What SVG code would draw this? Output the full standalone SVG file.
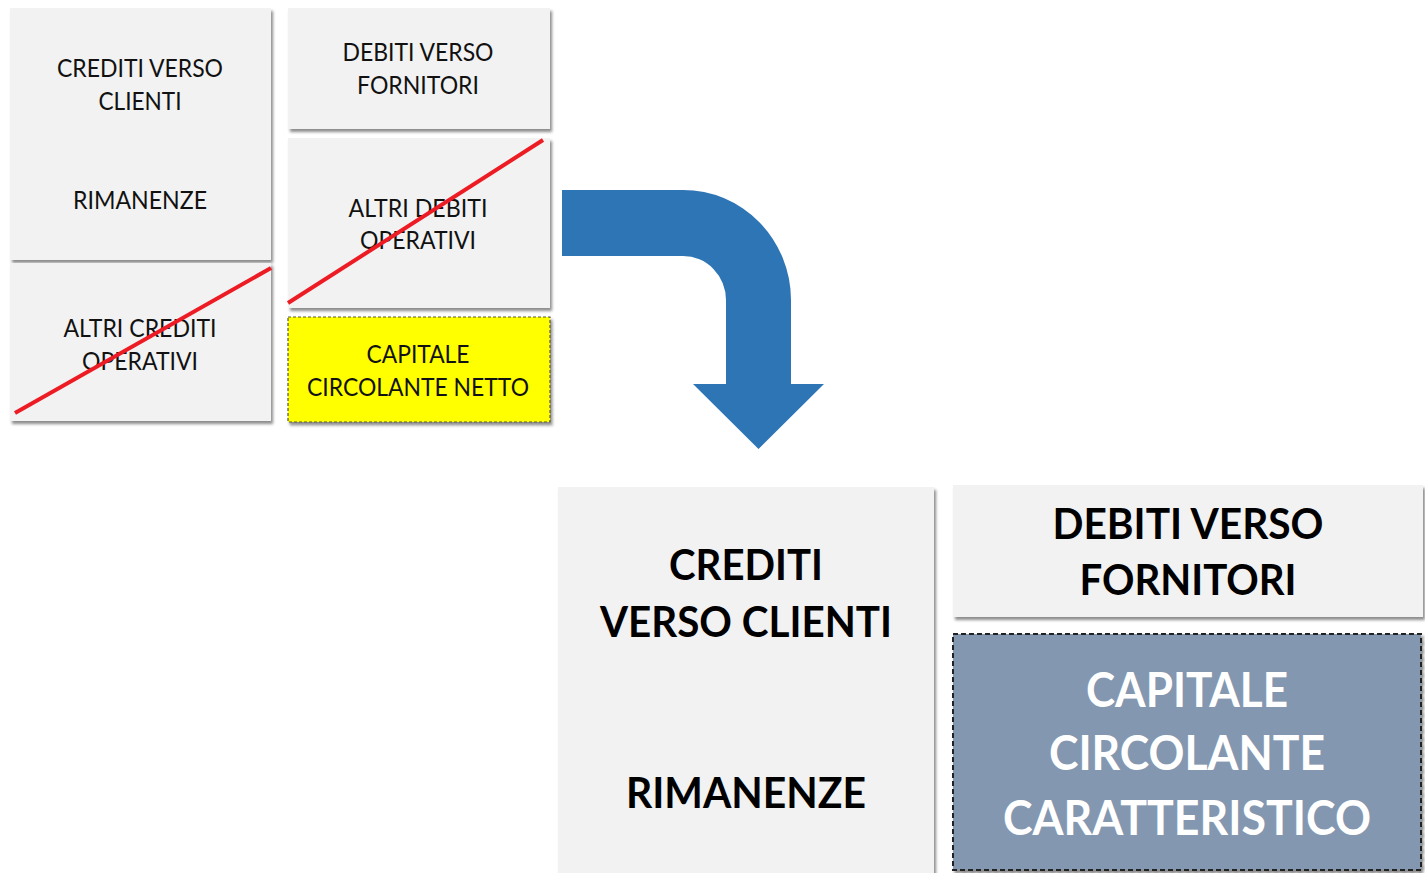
<svg xmlns="http://www.w3.org/2000/svg" width="1425" height="873" viewBox="0 0 1425 873">
<defs>
<filter id="sh" x="-10%" y="-10%" width="130%" height="130%">
<feDropShadow dx="2" dy="3" stdDeviation="1.6" flood-color="#000" flood-opacity="0.45"/>
</filter>
<style>
.box{fill:#f2f2f2;filter:url(#sh);}
.t{font-family:Lato,"Noto Sans","Liberation Sans",sans-serif;font-size:25px;fill:#111;text-anchor:middle;}
.b{font-family:Lato,"Noto Sans","Liberation Sans",sans-serif;font-weight:bold;font-size:42px;fill:#000;text-anchor:middle;}
.w{font-family:Lato,"Noto Sans","Liberation Sans",sans-serif;font-weight:bold;font-size:47px;fill:#fff;text-anchor:middle;}
.x{stroke:#ed1c24;stroke-width:4;stroke-linecap:butt;}
</style>
</defs>
<rect width="1425" height="873" fill="#fff"/>

<g id="n-crediti-rimanenze">
<rect class="box" x="10" y="8" width="261" height="252"/>
<text class="t" x="140" y="77" textLength="166" lengthAdjust="spacingAndGlyphs">CREDITI VERSO</text>
<text class="t" x="140" y="110" textLength="83" lengthAdjust="spacingAndGlyphs">CLIENTI</text>
<text class="t" x="140" y="209" textLength="134" lengthAdjust="spacingAndGlyphs">RIMANENZE</text>
</g>
<g id="n-altri-crediti">
<rect class="box" x="10" y="263" width="261" height="158"/>
<text class="t" x="140" y="337" textLength="153" lengthAdjust="spacingAndGlyphs">ALTRI CREDITI</text>
<text class="t" x="140" y="370" textLength="116" lengthAdjust="spacingAndGlyphs">OPERATIVI</text>
</g>
<g id="n-debiti-fornitori">
<rect class="box" x="288" y="8" width="262" height="121"/>
<text class="t" x="418" y="61" textLength="151" lengthAdjust="spacingAndGlyphs">DEBITI VERSO</text>
<text class="t" x="418" y="94" textLength="122" lengthAdjust="spacingAndGlyphs">FORNITORI</text>
</g>
<g id="n-altri-debiti">
<rect class="box" x="288" y="138" width="262" height="170"/>
<text class="t" x="418" y="217" textLength="139" lengthAdjust="spacingAndGlyphs">ALTRI DEBITI</text>
<text class="t" x="418" y="249" textLength="116" lengthAdjust="spacingAndGlyphs">OPERATIVI</text>
</g>
<g id="n-ccn">
<rect x="288" y="317" width="262" height="105" fill="#ffff00" stroke="#555533" stroke-width="1.2" stroke-dasharray="3,2" filter="url(#sh)"/>
<text class="t" x="418" y="363" textLength="103" lengthAdjust="spacingAndGlyphs">CAPITALE</text>
<text class="t" x="418" y="396" textLength="222" lengthAdjust="spacingAndGlyphs">CIRCOLANTE NETTO</text>
</g>

<g id="strikes">
<line class="x" x1="15" y1="413" x2="271" y2="268"/>
<line class="x" x1="288" y1="303" x2="543" y2="140"/>
</g>

<g id="connectors">
<path d="M562 190 H683 A108 110 0 0 1 791 300 V384 H824 L758.5 449 L693 384 H726 V300 A43 44 0 0 0 683 256 H562 Z" fill="#2e75b6"/>
</g>

<g id="n-crediti-rimanenze-2">
<rect class="box" x="558" y="487" width="376" height="390"/>
<text class="b" x="746" y="580" textLength="154" lengthAdjust="spacingAndGlyphs">CREDITI</text>
<text class="b" x="746" y="637" textLength="292" lengthAdjust="spacingAndGlyphs">VERSO CLIENTI</text>
<text class="b" x="746" y="808" textLength="240" lengthAdjust="spacingAndGlyphs">RIMANENZE</text>
</g>
<g id="n-debiti-fornitori-2">
<rect class="box" x="953" y="485" width="470" height="132"/>
<text class="b" x="1188" y="539" textLength="271" lengthAdjust="spacingAndGlyphs">DEBITI VERSO</text>
<text class="b" x="1188" y="595" textLength="217" lengthAdjust="spacingAndGlyphs">FORNITORI</text>
</g>
<g id="n-ccc">
<rect x="953" y="634" width="468" height="236" fill="#8497b0" stroke="#222" stroke-width="2" stroke-dasharray="5,3" filter="url(#sh)"/>
<text class="w" x="1187" y="707" textLength="202" lengthAdjust="spacingAndGlyphs">CAPITALE</text>
<text class="w" x="1187" y="770" textLength="276" lengthAdjust="spacingAndGlyphs">CIRCOLANTE</text>
<text class="w" x="1187" y="835" textLength="368" lengthAdjust="spacingAndGlyphs">CARATTERISTICO</text>
</g>
</svg>
